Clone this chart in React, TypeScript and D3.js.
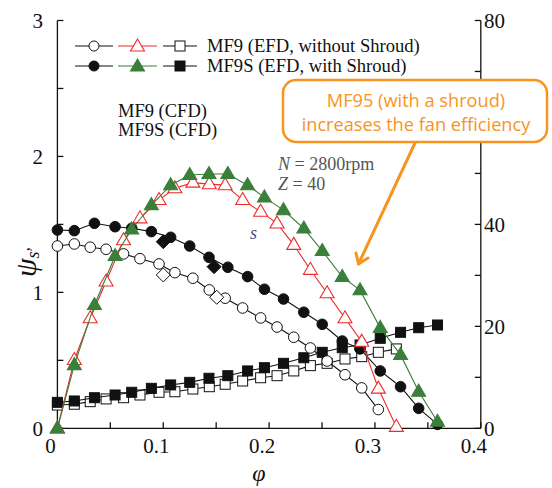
import React from "react";
import * as d3 from "d3";

const W = 552;
const H = 488;

// MF9 (EFD, without shroud)
const phiMF9 = [0, 0.016, 0.031, 0.046, 0.0625, 0.078, 0.096, 0.111, 0.128, 0.1435, 0.1585, 0.175, 0.192, 0.2075, 0.2233, 0.239, 0.2548, 0.2717, 0.2875, 0.3032, 0.3202];
const psiMF9 = [1.341, 1.356, 1.332, 1.317, 1.283, 1.248, 1.209, 1.145, 1.104, 1.018, 0.957, 0.885, 0.812, 0.745, 0.670, 0.591, 0.495, 0.394, 0.297, 0.138];
const etaMF9 = [0, 13.4, 21.6, 28.8, 36.9, 41.2, 44.8, 47.1, 48.2, 47.9, 47.7, 44.8, 42.5, 40.2, 36.0, 31.1, 26.5, 21.6, 17.0, 7.8, 0.3];
const lamMF9 = [0.171, 0.177, 0.196, 0.216, 0.225, 0.245, 0.265, 0.269, 0.289, 0.306, 0.324, 0.348, 0.372, 0.387, 0.422, 0.461, 0.478, 0.510, 0.527, 0.559, 0.584];

// MF9S (EFD, with shroud)
const phiMF9S = [0, 0.016, 0.035, 0.0545, 0.0702, 0.0888, 0.107, 0.125, 0.1432, 0.161, 0.1797, 0.1956, 0.2136, 0.2328, 0.2502, 0.2691, 0.2859, 0.305, 0.3242, 0.3413, 0.3591];
const psiMF9S = [1.459, 1.454, 1.508, 1.483, 1.472, 1.447, 1.405, 1.341, 1.258, 1.185, 1.116, 1.023, 0.951, 0.854, 0.765, 0.642, 0.584, 0.422, 0.306, 0.147, 0.029];
const etaMF9S = [0, 12.4, 24.2, 33.8, 39.0, 43.8, 47.7, 49.7, 49.9, 49.9, 47.7, 45.3, 42.8, 39.2, 34.8, 29.7, 27.1, 19.7, 14.4, 7.2, 1.3];
const lamMF9S = [0.191, 0.201, 0.225, 0.245, 0.265, 0.294, 0.319, 0.338, 0.368, 0.387, 0.422, 0.446, 0.478, 0.519, 0.559, 0.593, 0.613, 0.662, 0.706, 0.740, 0.760];

// CFD points
const phiCFD9 = [0.1, 0.1505];
const psiCFD9 = [1.128, 0.964];
const phiCFD9S = [0.1, 0.148];
const psiCFD9S = [1.373, 1.189];

const xTicks = [0, 0.1, 0.2, 0.3, 0.4];
const xMinor = d3.range(0, 0.4001, 0.05);
const yLTicks = [0, 1, 2, 3];
const yLMinor = d3.range(0, 3.001, 0.5);
const yRShown = [0, 20, 40, 80];
const yRMinor = d3.range(0, 80.1, 10);

const RED = "#ee2a2a";
const GREEN = "#3a7f3a";
const ORANGE = "#f7941d";
const SERIF = "'Liberation Serif', 'Times New Roman', serif";

const x = d3.scaleLinear().domain([0, 0.4]).range([57.4, 480.8]);
const yL = d3.scaleLinear().domain([0, 3]).range([428.3, 20.5]);
const yR = d3.scaleLinear().domain([0, 80]).range([428.3, 20.5]);

function pts(xs: number[], ys: number[]): [number, number][] {
  return ys.map((v, i) => [xs[i], v]);
}

const tri = (cx: number, cy: number, w = 14, h = 12) =>
  `M${cx},${cy - h * 0.62}L${cx + w / 2},${cy + h * 0.38}L${cx - w / 2},${cy + h * 0.38}Z`;
const dia = (cx: number, cy: number, r = 7) =>
  `M${cx},${cy - r}L${cx + r},${cy}L${cx},${cy + r}L${cx - r},${cy}Z`;

function Series({ data, yS, color, marker, fill }: any) {
  const line = d3.line<[number, number]>().x((d) => x(d[0])).y((d) => yS(d[1]));
  return (
    <g>
      <path d={line(data) || ""} fill="none" stroke={color} strokeWidth={1.1} />
      {data.map((d: [number, number], i: number) => {
        const cx = x(d[0]);
        const cy = yS(d[1]);
        if (marker === "circle")
          return <circle key={i} cx={cx} cy={cy} r={5.3} fill={fill} stroke={color} strokeWidth={1} />;
        if (marker === "square")
          return <rect key={i} x={cx - 5} y={cy - 5} width={10} height={10} fill={fill} stroke={color} strokeWidth={1} />;
        if (marker === "triangle")
          return <path key={i} d={tri(cx, cy)} fill={fill} stroke={color} strokeWidth={1.1} />;
        return <path key={i} d={dia(cx, cy)} fill={fill} stroke={color} strokeWidth={1} />;
      })}
    </g>
  );
}

function LegendRow({ y, items, label }: any) {
  return (
    <g>
      {items.map((it: any, i: number) => {
        const x0 = [75, 118, 163][i];
        const x1 = [113, 157, 197][i];
        const cx = (x0 + x1) / 2;
        return (
          <g key={i}>
            <line x1={x0} x2={x1} y1={y} y2={y} stroke={it.color} strokeWidth={1.1} />
            {it.marker === "circle" && <circle cx={cx} cy={y} r={5} fill={it.fill} stroke={it.color} />}
            {it.marker === "square" && <rect x={cx - 5} y={y - 5} width={10} height={10} fill={it.fill} stroke={it.color} />}
            {it.marker === "triangle" && <path d={tri(cx, y + 0.5)} fill={it.fill} stroke={it.color} strokeWidth={1.1} />}
          </g>
        );
      })}
      <text x={207} y={y + 6} fontFamily={SERIF} fontSize={18.6} fill="#111">{label}</text>
    </g>
  );
}

export default function App() {
  return (
    <div style={{ position: "fixed", left: 0, top: 0 }}>
      <svg width={W} height={H} style={{ display: "block", background: "#fff" }}>
        {/* axes */}
        <g stroke="#111" strokeWidth={1.3} fill="none">
          <line x1={x(0)} x2={x(0)} y1={yL(3)} y2={yL(0)} />
          <line x1={x(0.4)} x2={x(0.4)} y1={yR(80)} y2={yR(0)} />
          <line x1={x(0)} x2={x(0.4)} y1={yL(0)} y2={yL(0)} />
          {xMinor.map((t) => (
            <line key={"xm" + t} x1={x(t)} x2={x(t)} y1={yL(0)} y2={yL(0) - 6} />
          ))}
          {yLMinor.map((t) => (
            <line key={"ylm" + t} x1={x(0)} x2={x(0) + 6} y1={yL(t)} y2={yL(t)} />
          ))}
          {yRMinor.map((t) => (
            <line key={"yrm" + t} x1={x(0.4)} x2={x(0.4) - 6} y1={yR(t)} y2={yR(t)} />
          ))}
        </g>
        <g fontFamily={SERIF} fontSize={21} fill="#111">
          {xTicks.map((t) => (
            <text key={"xt" + t} x={x(t) - 7} y={453} textAnchor="middle">{t === 0 ? "0" : String(t)}</text>
          ))}
          {yLTicks.map((t) => (
            <text key={"ylt" + t} x={43} y={yL(t)} dy="0.35em" textAnchor="end">{t}</text>
          ))}
          {yRShown.map((t) => (
            <text key={"yrt" + t} x={484} y={yR(t)} dy="0.35em" textAnchor="start">{t}</text>
          ))}
        </g>
        {/* axis labels */}
        <text x={259} y={481} fontFamily={SERIF} fontStyle="italic" fontSize={24} textAnchor="middle" fill="#111">φ</text>
        <g transform="translate(36,262) rotate(-90)">
          <text fontFamily={SERIF} fontStyle="italic" fontSize={30} textAnchor="middle" fill="#111">
            ψ<tspan fontSize={18} dy={3}>s</tspan><tspan fontSize={18} dy={-10}>,</tspan>
          </text>
        </g>

        {/* data */}
        <Series data={pts(phiMF9, lamMF9)} yS={yL} color="#111" marker="square" fill="#fff" />
        <Series data={pts(phiMF9S, lamMF9S)} yS={yL} color="#111" marker="square" fill="#111" />
        <Series data={pts(phiMF9, psiMF9)} yS={yL} color="#111" marker="circle" fill="#fff" />
        <Series data={pts(phiMF9S, psiMF9S)} yS={yL} color="#111" marker="circle" fill="#111" />
        {pts(phiCFD9, psiCFD9).map((d, i) => (
          <path key={"c9" + i} d={dia(x(d[0]), yL(d[1]))} fill="#fff" stroke="#111" strokeWidth={1} />
        ))}
        {pts(phiCFD9S, psiCFD9S).map((d, i) => (
          <path key={"c9s" + i} d={dia(x(d[0]), yL(d[1]))} fill="#111" stroke="#111" strokeWidth={1} />
        ))}
        <Series data={pts(phiMF9, etaMF9)} yS={yR} color={RED} marker="triangle" fill="#fff" />
        <Series data={pts(phiMF9S, etaMF9S)} yS={yR} color={GREEN} marker="triangle" fill={GREEN} />

        {/* legend */}
        <LegendRow
          y={46}
          label="MF9 (EFD, without Shroud)"
          items={[
            { color: "#111", marker: "circle", fill: "#fff" },
            { color: RED, marker: "triangle", fill: "#fff" },
            { color: "#111", marker: "square", fill: "#fff" },
          ]}
        />
        <LegendRow
          y={66}
          label="MF9S (EFD, with Shroud)"
          items={[
            { color: "#111", marker: "circle", fill: "#111" },
            { color: GREEN, marker: "triangle", fill: GREEN },
            { color: "#111", marker: "square", fill: "#111" },
          ]}
        />
        <text x={118} y={117} fontFamily={SERIF} fontSize={18.5} fill="#111">MF9 (CFD)</text>
        <text x={118} y={136} fontFamily={SERIF} fontSize={18.5} fill="#111">MF9S (CFD)</text>

        {/* conditions */}
        <g fontFamily={SERIF} fontSize={18} fill="#555">
          <text x={278} y={170}><tspan fontStyle="italic">N</tspan> = 2800rpm</text>
          <text x={278} y={190}><tspan fontStyle="italic">Z</tspan> = 40</text>
        </g>
        <text x={250} y={239} fontFamily={SERIF} fontStyle="italic" fontSize={18} fill="#4b4b85">s</text>

        {/* annotation */}
        <path d="M415,143 L358.5,264 M356,253 L358.5,264 L368,258" fill="none" stroke={ORANGE} strokeWidth={3} strokeLinecap="round" strokeLinejoin="round" />
        <rect x={283} y={80} width={264} height={62} rx={13} fill="#fff" stroke={ORANGE} strokeWidth={2.5} />
        <g fontFamily="'Open Sans', 'Noto Sans', sans-serif" fontSize={18.2} fill={ORANGE} textAnchor="middle">
          <text x={416} y={107}>MF95 (with a shroud)</text>
          <text x={416} y={131}>increases the fan efficiency</text>
        </g>
      </svg>
    </div>
  );
}
